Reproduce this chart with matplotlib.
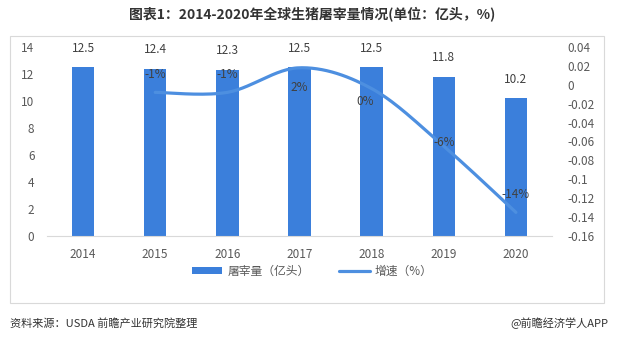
import numpy as np
import matplotlib
matplotlib.use("Agg")
import matplotlib.pyplot as plt
from matplotlib.patches import Rectangle

plt.rcParams['font.family'] = ['Noto Sans CJK SC', 'DejaVu Sans']

years = ['2014', '2015', '2016', '2017', '2018', '2019', '2020']
slaughter = [12.5, 12.4, 12.3, 12.5, 12.5, 11.8, 10.2]
growth_years = ['2015', '2016', '2017', '2018', '2019', '2020']
growth = [-0.008, -0.008, 0.018, -0.004, -0.065, -0.135]
growth_labels = ['-1%', '-1%', '2%', '0%', '-6%', '-14%']

bar_color = '#3b7fdb'
line_color = '#4d8fe0'
tick_color = '#595959'

fig = plt.figure(figsize=(6.24, 3.4), dpi=100)
# outer border
fig.patches.append(Rectangle((10/624, 1-303/340), 594/624, 267/340,
                             transform=fig.transFigure, fill=False,
                             edgecolor='#d9d9d9', linewidth=0.8))

ax = fig.add_axes([47/624, 1-236/340, 505/624, 189/340])
x = np.arange(len(years))
ax.bar(x, slaughter, width=0.31, color=bar_color, zorder=2, label='屠宰量（亿头）')
for xi, v in zip(x, slaughter):
    ax.annotate(f'{v}', (xi, v), xytext=(0, 9), textcoords='offset points',
                ha='center', va='bottom', fontsize=8.5, color='#404040')
ax.set_ylim(0, 14)
ax.set_yticks(np.arange(0, 15, 2))
ax.set_xlim(-0.5, len(years)-0.5)
ax.set_xticks(x)
ax.set_xticklabels(years)
for s in ['top', 'right', 'left']:
    ax.spines[s].set_visible(False)
ax.spines['bottom'].set_color('#d9d9d9')
ax.tick_params(axis='both', length=0, labelsize=8.5, colors=tick_color)
ax.tick_params(axis='y', pad=9)
ax.tick_params(axis='x', pad=9)

ax2 = ax.twinx()
gx = np.array([years.index(y) for y in growth_years], dtype=float)
gy = np.array(growth)

# Catmull-Rom smoothing through the data points (Excel-like smoothed line)
def catmull(px, py, n=30):
    P = np.column_stack([px, py])
    P = np.vstack([P[0], P, P[-1]])
    out = []
    for i in range(1, len(P)-2):
        p0, p1, p2, p3 = P[i-1], P[i], P[i+1], P[i+2]
        t = np.linspace(0, 1, n)[:, None]
        seg = 0.5*((2*p1) + (-p0+p2)*t + (2*p0-5*p1+4*p2-p3)*t**2 + (-p0+3*p1-3*p2+p3)*t**3)
        out.append(seg if i == 1 else seg[1:])
    out = np.vstack(out)
    return out[:, 0], out[:, 1]

sx, sy = catmull(gx, gy)
ax2.plot(sx, sy, color=line_color, linewidth=2.3, solid_capstyle='round', zorder=3, label='增速（%）')
offsets = [(0, 13), (0, 13), (0, -14), (-5, -9), (0, 3), (0, 13)]
for xi, yi, lab, off in zip(gx, gy, growth_labels, offsets):
    ax2.annotate(lab, (xi, yi), xytext=off, textcoords='offset points',
                 ha='center', va='center', fontsize=8.5, color='#404040', zorder=4)
ax2.set_ylim(-0.16, 0.04)
ax2.set_yticks(np.round(np.arange(-0.16, 0.041, 0.02), 2))
ax2.set_yticklabels(['-0.16', '-0.14', '-0.12', '-0.1', '-0.08', '-0.06', '-0.04',
                     '-0.02', '0', '0.02', '0.04'])
for s in ['top', 'right', 'left', 'bottom']:
    ax2.spines[s].set_visible(False)
ax2.tick_params(axis='y', length=0, labelsize=8.5, colors=tick_color, pad=11)

h1, l1 = ax.get_legend_handles_labels()
h2, l2 = ax2.get_legend_handles_labels()
fig.legend(h1+h2, l1+l2, loc='center', bbox_to_anchor=(312/624, 1-271/340),
           ncol=2, frameon=False, fontsize=8.5, handlelength=2.6, handleheight=0.5,
           columnspacing=2.5, handletextpad=0.4, labelcolor=tick_color)

fig.text(312/624, 1-14/340, '图表1：2014-2020年全球生猪屠宰量情况(单位：亿头，%)',
         ha='center', va='center', fontsize=10, fontweight='bold', color='#333333')
fig.text(10/624, 1-323/340, '资料来源：USDA 前瞻产业研究院整理', ha='left', va='center',
         fontsize=8, color='#333333')
fig.text(608/624, 1-323/340, '@前瞻经济学人APP', ha='right', va='center',
         fontsize=8, color='#333333')

fig.savefig('out.png', dpi=100)
